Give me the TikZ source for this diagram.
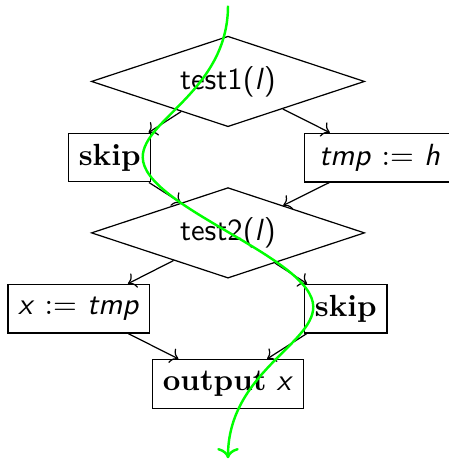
\documentclass[tikz,border=0pt]{standalone}
\usepackage{amsmath}
\usepackage{tikz}
\usetikzlibrary{arrows.meta,shapes.geometric}

\newcommand{\svar}[1]{\textsf{\textsl{#1}}}

\begin{document}
\begin{tikzpicture}[
    test/.style={draw, diamond, aspect=3, inner sep=1pt, minimum width=3.14cm, minimum height=1.04cm, font=\sffamily},
    stmt/.style={draw, minimum height=0.56cm},
    arr/.style={->},
    trace/.style={->, thick, color=green},
  ]
  \path[use as bounding box, clip] (-2.62, -2.62) rectangle (2.539, 2.666);

  % Tests
  \node[test] (test1) at (0, 1.73)   {test1(\textsl{l})};
  \node[test] (test2) at (0, -0.01)  {test2(\textsl{l})};

  % Statements
  \node[stmt] (skip1)  at (-1.359, 0.856) {\textbf{skip}};
  \node[stmt, minimum width=1.73cm] (assign1) at (1.741, 0.855) {\svar{tmp} \(:=\) \svar{h}};
  \node[stmt] (assign2) at (-1.715, -0.881) {\svar{x} \(:=\)\ \svar{tmp}};
  \node[stmt] (skip2)  at (1.354, -0.881) {\textbf{skip}};
  \node[stmt] (output) at (0, -1.745)     {\textbf{output} \svar{x}};

  % Edges
  \draw[arr] (test1)   -- (skip1);
  \draw[arr] (test1)   -- (assign1);
  \draw[arr] (skip1)   -- (test2);
  \draw[arr] (assign1) -- (test2);
  \draw[arr] (test2)   -- (assign2);
  \draw[arr] (test2)   -- (skip2);
  \draw[arr] (assign2) -- (output);
  \draw[arr] (skip2)   -- (output);

  % Execution trace
  \coordinate (tstart) at (0, 2.6);
  \coordinate (bend1)  at (-0.98, 0.86);
  \coordinate (bend2)  at (0.98, -0.86);
  \coordinate (tend)   at (0, -2.6);
  \draw[trace] (tstart) .. controls +(0, -0.97) and +(0, 0.43) .. (bend1)
                        .. controls +(0, -0.57) and +(0, 0.57) .. (bend2)
                        .. controls +(0, -0.43) and +(0, 0.97) .. (tend);
\end{tikzpicture}
\end{document}
